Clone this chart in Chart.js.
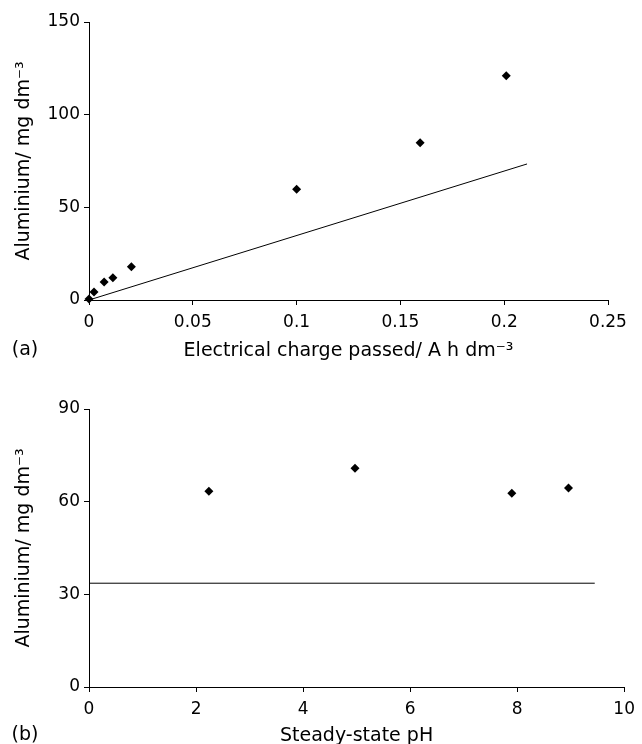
<!DOCTYPE html>
<html>
<head>
<meta charset="utf-8">
<script src="https://cdn.jsdelivr.net/npm/chart.js@4.4.0/dist/chart.umd.min.js"></script>
<style>
    html, body { margin: 0; padding: 0; background: #fff; width: 642px; height: 744px; overflow: hidden; }
    canvas { position: absolute; left: 0; }
    #chartA { top: 0; }
    #chartB { top: 366px; }
</style>
</head>
<body>
<canvas id="chartA" width="642" height="366"></canvas>
<canvas id="chartB" width="642" height="392"></canvas>
<script>
// (a) aluminium vs charge passed
const chargePassed = [0, 0.0024, 0.0073, 0.0115, 0.0204, 0.1, 0.1595, 0.201];
const aluminiumA = [0.5, 4.3, 9.7, 12, 18, 59.7, 84.9, 121];
const lineChargeA = [0, 0.211];
const lineAluminiumA = [0, 73.4];
const chargeTicks = [0, 0.05, 0.1, 0.15, 0.2, 0.25];
const chargeTickLabels = ['0', '0.05', '0.1', '0.15', '0.2', '0.25'];
const aluminiumTicksA = [0, 50, 100, 150];

// (b) aluminium vs steady-state pH
const steadyPH = [2.24, 4.97, 7.9, 8.96];
const aluminiumB = [63.4, 70.8, 62.7, 64.4];
const linePH = [0, 9.45];
const lineAluminiumB = [33.6, 33.6];
const phTicks = [0, 2, 4, 6, 8, 10];
const aluminiumTicksB = [0, 30, 60, 90];

const FONT = "'DejaVu Sans', 'Liberation Sans', sans-serif";
const tickFont = { family: FONT, size: 17 };
const titleFont = { family: FONT, size: 19 };

function toPoints(xs, ys) {
    return xs.map((x, i) => ({ x: x, y: ys[i] }));
}

function panelLabel(text, x, y) {
    return {
        id: 'panelLabel',
        afterDraw(chart) {
            const ctx = chart.ctx;
            ctx.save();
            ctx.font = "19px " + FONT;
            ctx.fillStyle = '#000';
            ctx.textAlign = 'center';
            ctx.textBaseline = 'middle';
            ctx.fillText(text, x, y);
            ctx.restore();
        }
    };
}

function makeChart(id, cfg) {
    const axisCommon = {
        type: 'linear',
        border: { color: '#000', width: 1 },
        grid: { display: true, drawOnChartArea: false, drawTicks: true, tickLength: 5, color: '#000' }
    };

    return new Chart(document.getElementById(id).getContext('2d'), {
        type: 'scatter',
        data: {
            datasets: [
                {
                    data: toPoints(cfg.xs, cfg.ys),
                    pointStyle: 'rectRot',
                    pointRadius: 4.5,
                    backgroundColor: '#000',
                    borderColor: '#000',
                    borderWidth: 0,
                    clip: false
                },
                {
                    data: toPoints(cfg.lineX, cfg.lineY),
                    showLine: true,
                    pointRadius: 0,
                    borderColor: '#000',
                    borderWidth: 1,
                    clip: false
                }
            ]
        },
        options: {
            responsive: false,
            animation: false,
            devicePixelRatio: 1,
            layout: { padding: { top: cfg.padTop, right: cfg.padRight, left: 0, bottom: 0 } },
            plugins: { legend: { display: false }, tooltip: { enabled: false } },
            scales: {
                x: {
                    ...axisCommon,
                    min: cfg.xTicks[0],
                    max: cfg.xTicks[cfg.xTicks.length - 1],
                    afterBuildTicks: s => { s.ticks = cfg.xTicks.map(v => ({ value: v })); },
                    afterFit: s => { s.height = cfg.xHeight; },
                    ticks: {
                        color: '#000', font: tickFont, padding: 7, maxRotation: 0,
                        callback: (v, i) => cfg.xLabels[i]
                    },
                    title: {
                        display: true, text: cfg.xTitle, color: '#000', font: titleFont,
                        padding: { top: 0, bottom: cfg.xTitlePad }
                    }
                },
                y: {
                    ...axisCommon,
                    min: cfg.yTicks[0],
                    max: cfg.yTicks[cfg.yTicks.length - 1],
                    afterBuildTicks: s => { s.ticks = cfg.yTicks.map(v => ({ value: v })); },
                    afterFit: s => { s.width = 89; },
                    ticks: { color: '#000', font: tickFont, padding: 4 },
                    title: {
                        display: true, text: 'Aluminium/ mg dm\u207B\u00B3', color: '#000', font: titleFont,
                        padding: { top: 13, bottom: 0 }
                    }
                }
            }
        },
        plugins: [panelLabel(cfg.panel, 25, cfg.panelY)]
    });
}

makeChart('chartA', {
    xs: chargePassed, ys: aluminiumA,
    lineX: lineChargeA, lineY: lineAluminiumA,
    xTicks: chargeTicks, xLabels: chargeTickLabels,
    yTicks: aluminiumTicksA,
    xTitle: 'Electrical charge passed/ A h dm\u207B\u00B3',
    padTop: 22, padRight: 34, xHeight: 66, xTitlePad: 4,
    panel: '(a)', panelY: 350
});

makeChart('chartB', {
    xs: steadyPH, ys: aluminiumB,
    lineX: linePH, lineY: lineAluminiumB,
    xTicks: phTicks, xLabels: phTicks.map(String),
    yTicks: aluminiumTicksB,
    xTitle: 'Steady-state pH',
    padTop: 43, padRight: 11, xHeight: 71, xTitlePad: 11,
    panel: '(b)', panelY: 369
});
</script>
</body>
</html>
